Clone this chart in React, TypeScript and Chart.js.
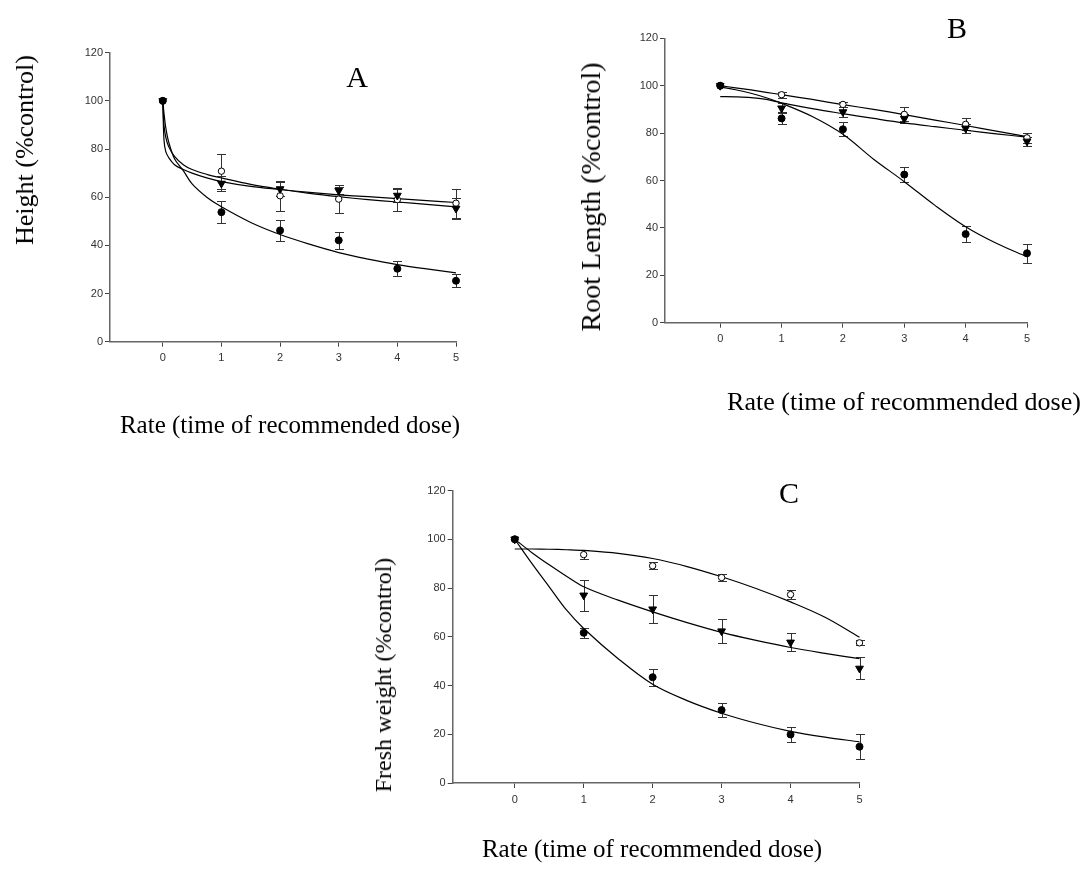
import React, { useEffect, useRef } from "react";
import { Chart, registerables } from "chart.js";
Chart.register(...registerables);

// ---------- shared ----------
const doses = [0, 1, 2, 3, 4, 5];
const xTicks = [0, 1, 2, 3, 4, 5];
const yTickStep = 20;
const yMax = 120;
const xMin = -0.9;
const xMax = 5;

// ---------- Panel A: Height (%control) ----------
const heightClosed = [100, 53.8, 46.2, 42.1, 30.3, 25.3];
const heightClosedErr = [0, 4.5, 4.2, 3.6, 3.1, 2.7];
const heightOpen = [100, 70.8, 60.6, 59.2, 59.0, 57.5];
const heightOpenErr = [0, 7.3, 6.3, 5.7, 4.8, 6.0];
const heightTri = [100, 65.7, 63.4, 62.7, 60.7, 55.3];
const heightTriErr = [0, 3.0, 3.0, 1.5, 2.5, 4.5];

const heightFitX = [0, 0.02, 0.05, 0.1, 0.2, 0.35, 0.5, 0.75, 1, 1.5, 2, 2.5, 3, 3.5, 4, 4.5, 5];
const heightFitClosed = [100, 95, 89, 83, 76, 71, 65.5, 60, 56, 49.5, 44.5, 40.5, 37, 34.3, 32, 30.2, 28.6];
const heightFitTri = [100, 84, 79, 76.5, 73.5, 71.5, 70, 68, 66.5, 64.5, 63.2, 62, 61, 60.2, 59.4, 58.6, 57.8];
const heightFitOpen = [100, 90, 85, 81, 77, 73.5, 71.5, 69.5, 68, 65.3, 63.3, 61.6, 60.2, 59, 58, 57, 56];

// ---------- Panel B: Root Length (%control) ----------
const rootClosed = [100, 86.2, 81.6, 62.5, 37.4, 29.3];
const rootClosedErr = [0, 2.5, 3.0, 3.0, 3.2, 4.0];
const rootOpen = [100, 96.2, 92.1, 87.9, 83.7, 78.0];
const rootOpenErr = [0, 1.3, 1.0, 3.0, 2.5, 2.0];
const rootTri = [100, 90.5, 88.9, 86.1, 82.0, 76.5];
const rootTriErr = [0, 2.0, 2.0, 2.0, 2.0, 2.0];

const rootFitX = [0, 0.25, 0.5, 0.75, 1, 1.5, 2, 2.5, 3, 3.5, 4, 4.5, 5];
const rootFitClosed = [99.5, 98.3, 96.8, 94.9, 92.6, 87, 79.5, 69, 59.5, 49.5, 40.5, 33.5, 27.8];
const rootFitOpen = [100, 99.1, 98.2, 97.2, 96.2, 94.2, 92, 90, 87.8, 85.5, 83.2, 80.8, 78.5];
const rootFitTri = [95.4, 95.3, 95.0, 94.2, 92.8, 90.3, 88.2, 86.2, 84.3, 82.7, 81.2, 79.7, 78.3];

// ---------- Panel C: Fresh weight (%control) ----------
const freshClosed = [100, 61.6, 43.4, 29.9, 19.9, 14.9];
const freshClosedErr = [0, 2.0, 3.4, 2.9, 3.0, 5.0];
const freshOpen = [100, 93.7, 89.1, 84.3, 77.3, 57.5];
const freshOpenErr = [0, 2.0, 1.5, 1.5, 1.8, 1.0];
const freshTri = [100, 77.0, 71.3, 62.3, 57.7, 47.0];
const freshTriErr = [0, 6.4, 5.7, 5.0, 3.7, 4.5];

const freshFitX = [0, 0.25, 0.5, 0.75, 1, 1.5, 2, 2.5, 3, 3.5, 4, 4.5, 5];
const freshFitClosed = [100, 90, 80.5, 71, 63.4, 51, 40.5, 33.8, 28.6, 24.5, 21.2, 18.8, 16.9];
const freshFitOpen = [96, 96, 95.9, 95.7, 95.4, 94.2, 92.1, 88.8, 84.6, 79.8, 74.3, 68, 59.8];
const freshFitTri = [100, 94.5, 89.5, 84.8, 80.5, 75, 70.2, 65.8, 61.8, 58.5, 55.6, 53.2, 51];

// ---------- helpers ----------
const pts = (xs: number[], ys: number[]) => xs.map((x, i) => ({ x, y: ys[i] }));

const errorBarPlugin = {
  id: "errorBars",
  beforeDatasetsDraw(chart: any) {
    const ctx = chart.ctx;
    const xs = chart.scales.x;
    const ys = chart.scales.y;
    chart.data.datasets.forEach((ds: any) => {
      const errs: number[] | undefined = ds.errors;
      if (!errs) return;
      ds.data.forEach((p: any, i: number) => {
        const e = errs[i];
        if (!e) return;
        const px = Math.round(xs.getPixelForValue(p.x)) + 0.5;
        const top = Math.round(ys.getPixelForValue(p.y + e)) + 0.5;
        const bot = Math.round(ys.getPixelForValue(p.y - e)) + 0.5;
        ctx.save();
        ctx.strokeStyle = "#333";
        ctx.lineWidth = 1;
        ctx.beginPath();
        ctx.moveTo(px, top);
        ctx.lineTo(px, bot);
        ctx.moveTo(px - 4.5, top);
        ctx.lineTo(px + 4.5, top);
        ctx.moveTo(px - 4.5, bot);
        ctx.lineTo(px + 4.5, bot);
        ctx.stroke();
        ctx.restore();
      });
    });
  },
};

type PanelProps = {
  left: number;
  top: number;
  width: number;
  height: number;
  area: { left: number; right: number; top: number; bottom: number };
  closed: number[];
  closedErr: number[];
  open: number[];
  openErr: number[];
  tri: number[];
  triErr: number[];
  fitX: number[];
  fits: number[][];
};

function Panel(p: PanelProps) {
  const ref = useRef<HTMLCanvasElement | null>(null);
  useEffect(() => {
    if (!ref.current) return;
    const tickFont = { family: "'Liberation Sans', Arial, sans-serif", size: 11 };
    const yAxisWidth = p.area.left;
    const xAxisHeight = p.height - p.area.bottom;
    const lineSets = p.fits.map((f) => ({
      type: "scatter" as const,
      data: pts(p.fitX, f),
      showLine: true,
      borderColor: "#000",
      borderWidth: 1.2,
      pointRadius: 0,
      pointHoverRadius: 0,
      tension: 0.35,
      fill: false,
      clip: false,
    }));
    const chart = new Chart(ref.current, {
      type: "scatter",
      data: {
        datasets: [
          {
            data: pts(doses, p.closed),
            errors: p.closedErr,
            pointStyle: "circle",
            pointRadius: 3.5,
            backgroundColor: "#000",
            borderColor: "#000",
            borderWidth: 1,
            clip: false,
          } as any,
          {
            data: pts(doses, p.tri),
            errors: p.triErr,
            pointStyle: "triangle",
            rotation: 180,
            pointRadius: 4.5,
            backgroundColor: "#000",
            borderColor: "#000",
            borderWidth: 1,
            clip: false,
          } as any,
          {
            data: pts(doses, p.open),
            errors: p.openErr,
            pointStyle: "circle",
            pointRadius: 3.2,
            backgroundColor: "#fff",
            borderColor: "#000",
            borderWidth: 1,
            clip: false,
          } as any,
          ...lineSets,
        ],
      },
      options: {
        responsive: false,
        animation: false,
        devicePixelRatio: 1,
        layout: {
          padding: { left: 0, top: p.area.top, right: p.width - p.area.right, bottom: 0 },
        },
        plugins: { legend: { display: false }, tooltip: { enabled: false }, title: { display: false } },
        scales: {
          x: {
            type: "linear",
            min: xMin,
            max: xMax,
            afterBuildTicks: (s: any) => {
              s.ticks = xTicks.map((v) => ({ value: v }));
            },
            afterFit: (s: any) => {
              s.height = xAxisHeight;
            },
            grid: { display: true, drawOnChartArea: false, drawTicks: true, tickLength: 5, color: "#444" },
            border: { display: true, color: "#666", width: 1.5 },
            ticks: { font: tickFont, color: "#333", padding: 5, maxRotation: 0, autoSkip: false },
          },
          y: {
            type: "linear",
            min: 0,
            max: yMax,
            ticks: { stepSize: yTickStep, font: tickFont, color: "#333", padding: 2 },
            afterFit: (s: any) => {
              s.width = yAxisWidth;
            },
            grid: { display: true, drawOnChartArea: false, drawTicks: true, tickLength: 5, color: "#444" },
            border: { display: true, color: "#666", width: 1.5 },
          },
        },
      } as any,
      plugins: [errorBarPlugin],
    });
    return () => chart.destroy();
  }, []);
  return (
    <canvas
      ref={ref}
      width={p.width}
      height={p.height}
      style={{ position: "absolute", left: p.left, top: p.top, width: p.width, height: p.height }}
    />
  );
}

const serif = "'Liberation Serif', 'Times New Roman', serif";

function Label({ text, x, y, size, rotate }: { text: string; x: number; y: number; size: number; rotate?: boolean }) {
  return (
    <div
      style={{
        position: "absolute",
        left: x,
        top: y,
        transform: `translate(-50%, -50%)${rotate ? " rotate(-90deg)" : ""}`,
        fontFamily: serif,
        fontSize: size,
        whiteSpace: "nowrap",
        color: "#000",
        lineHeight: 1,
      }}
    >
      {text}
    </div>
  );
}

export default function App() {
  return (
    <div style={{ position: "absolute", left: 0, top: 0, width: 1087, height: 885, background: "#fff", overflow: "hidden" }}>
      <Panel
        left={0}
        top={0}
        width={540}
        height={440}
        area={{ left: 110, right: 456, top: 52.7, bottom: 341.7 }}
        closed={heightClosed}
        closedErr={heightClosedErr}
        open={heightOpen}
        openErr={heightOpenErr}
        tri={heightTri}
        triErr={heightTriErr}
        fitX={heightFitX}
        fits={[heightFitClosed, heightFitTri, heightFitOpen]}
      />
      <Panel
        left={540}
        top={0}
        width={547}
        height={440}
        area={{ left: 125, right: 487, top: 38.3, bottom: 322.7 }}
        closed={rootClosed}
        closedErr={rootClosedErr}
        open={rootOpen}
        openErr={rootOpenErr}
        tri={rootTri}
        triErr={rootTriErr}
        fitX={rootFitX}
        fits={[rootFitClosed, rootFitOpen, rootFitTri]}
      />
      <Panel
        left={300}
        top={440}
        width={640}
        height={445}
        area={{ left: 152.7, right: 559.5, top: 50.5, bottom: 343 }}
        closed={freshClosed}
        closedErr={freshClosedErr}
        open={freshOpen}
        openErr={freshOpenErr}
        tri={freshTri}
        triErr={freshTriErr}
        fitX={freshFitX}
        fits={[freshFitClosed, freshFitOpen, freshFitTri]}
      />
      <Label text="A" x={357} y={77} size={30} />
      <Label text="B" x={957} y={28} size={30} />
      <Label text="C" x={789} y={493} size={30} />
      <Label text="Height (%control)" x={25} y={150} size={26} rotate />
      <Label text="Root Length (%control)" x={591} y={197} size={28} rotate />
      <Label text="Fresh weight (%control)" x={383} y={675} size={24} rotate />
      <Label text="Rate (time of recommended dose)" x={290} y={424} size={25} />
      <Label text="Rate (time of recommended dose)" x={904} y={402} size={26} />
      <Label text="Rate (time of recommended dose)" x={652} y={848} size={25} />
    </div>
  );
}
